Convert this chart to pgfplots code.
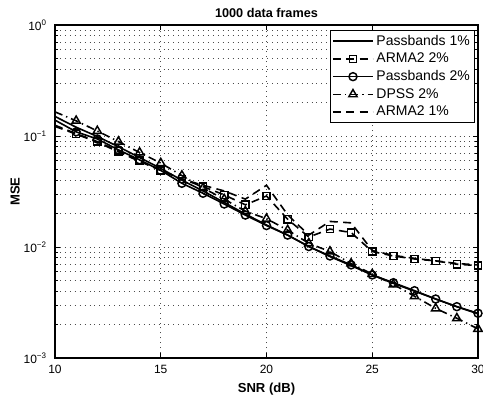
\documentclass[border=0pt]{standalone}
\usepackage{fontspec}
\setmainfont{Liberation Sans}
\usepackage{pgfplots}
\usepackage{pgfplotstable}
\pgfplotsset{compat=1.18}
\usetikzlibrary{calc}
\pgfplotstableread{
snr pbone armatwo pbtwo dpss armaone
10 0.150 0.125 0.139 0.165 0.122
11 0.120 0.105 0.109 0.137 0.104
12 0.099 0.089 0.094 0.111 0.088
13 0.080 0.073 0.075 0.089 0.072
14 0.064 0.060 0.061 0.071 0.059
15 0.051 0.049 0.049 0.057 0.049
16 0.040 0.041 0.0375 0.044 0.041
17 0.032 0.035 0.0305 0.034 0.036
18 0.0252 0.0295 0.0244 0.027 0.032
19 0.0198 0.024 0.0194 0.021 0.027
20 0.0158 0.0288 0.0156 0.018 0.036
21 0.0128 0.0178 0.0128 0.0142 0.0195
22 0.0101 0.0123 0.0101 0.0108 0.0128
23 0.0082 0.0145 0.0083 0.0091 0.017
24 0.0068 0.0135 0.0069 0.0071 0.0165
25 0.0056 0.0091 0.0056 0.0057 0.0093
26 0.0047 0.0083 0.00477 0.0046 0.0084
27 0.0040 0.0078 0.00404 0.0036 0.0079
28 0.0034 0.0075 0.0034 0.0028 0.0075
29 0.0029 0.0070 0.0029 0.00228 0.0071
30 0.0025 0.0068 0.00253 0.00183 0.0069
}\datatable
\begin{document}
\begin{tikzpicture}
\begin{axis}[
  scale only axis, width=317.25pt, height=249.75pt,
  ymode=log, xmin=10, xmax=30, ymin=1e-3, ymax=1,
  clip=false,
  xtick={10,15,20,25,30}, xticklabels={10,15,20,25,30},
  ytick={1e-3,1e-2,1e-1,1},
  yticklabels={{10\textsuperscript{−3}},{10\textsuperscript{−2}},{10\textsuperscript{−1}},{10\textsuperscript{0}}},
  xticklabel style={font=\fontsize{9}{10}\selectfont, anchor=base, yshift=-11.25pt},
  yticklabel style={font=\fontsize{9}{10}\selectfont, anchor=east, inner sep=0pt, xshift=-6pt},
  xmajorgrids, ymajorgrids, yminorgrids,
  grid style={dash pattern=on 0.7pt off 3pt, gray!60!black, line width=0.6pt},
  minor grid style={dash pattern=on 0.7pt off 3pt, gray!60!black, line width=0.6pt},
  tick align=inside, major tick length=4pt, minor tick length=2.2pt,
  tick style={black, line width=0.5pt},
  axis line style={line width=0.8pt},
  title={1000 data frames},
  title style={font=\bfseries\fontsize{9.5}{11}\selectfont, at={(axis description cs:0.5,1)}, anchor=base, yshift=-0.5pt},
  xlabel={SNR (dB)},
  xlabel style={font=\bfseries\fontsize{9.8}{11}\selectfont, at={(axis description cs:0.5,0)}, anchor=base, yshift=-26pt},
  ylabel={MSE},
  ylabel style={font=\bfseries\fontsize{9.8}{11}\selectfont, at={(axis description cs:-0.094,0.5)}, anchor=center, rotate=0},
  legend style={at={(axis description cs:0.993,0.985)}, anchor=north east, draw=black, line width=0.8pt, fill=white,
    font=\fontsize{10.5}{12}\selectfont, inner sep=1.5pt, row sep=0.3pt,
    /tikz/every even column/.append style={column sep=1pt}},
  legend cell align=left,
  legend image code/.code={\draw[line width=1.2pt, mark repeat=2, mark phase=2, #1, mark options={solid, fill=none, line width=1.1pt}] plot coordinates {(0pt,0pt) (15pt,0pt) (30pt,0pt)};},
  every axis plot/.append style={black, line width=1.2pt, mark size=3pt, mark options={solid, fill=none, line width=1.1pt}},
]
\addplot[solid] table[x=snr, y=pbone] {\datatable};
\addlegendentry{Passbands 1\%}
\addplot[dash pattern=on 6pt off 4pt, mark=square, mark size=2.7pt, mark phase=2] table[x=snr, y=armatwo] {\datatable};
\addlegendentry{ARMA2 2\%}
\addplot[solid, mark=o, mark phase=2] table[x=snr, y=pbtwo] {\datatable};
\addlegendentry{Passbands 2\%}
\addplot[dash pattern=on 6pt off 3pt on 1pt off 3pt, mark=triangle, mark size=3.6pt, mark phase=2] table[x=snr, y=dpss] {\datatable};
\addlegendentry{DPSS 2\%}
\addplot[dash pattern=on 6pt off 4pt] table[x=snr, y=armaone] {\datatable};
\addlegendentry{ARMA2 1\%}
\end{axis}
\pgfresetboundingbox
\path[use as bounding box] ($(current axis.south west)+(-41.25pt,-29.25pt)$) rectangle ($(current axis.north east)+(3.75pt,18.75pt)$);
\end{tikzpicture}
\end{document}
